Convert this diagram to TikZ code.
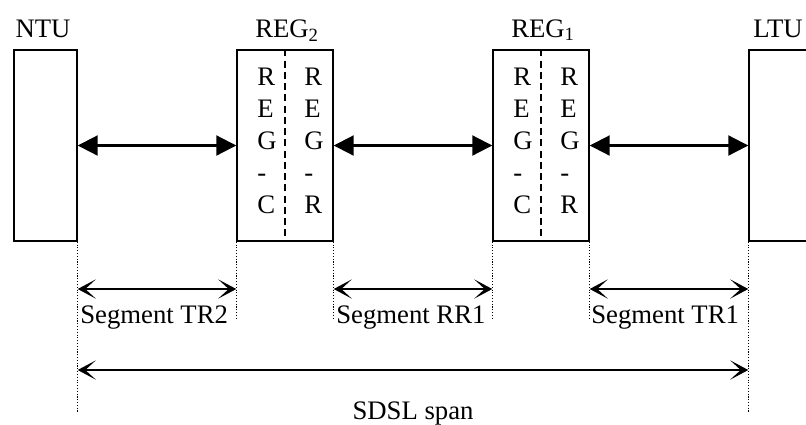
\documentclass[tikz,border=0pt]{standalone}
\usepackage{fontspec}
\setmainfont{Liberation Serif}
\usetikzlibrary{arrows.meta, positioning}

\begin{document}
\begin{tikzpicture}[x=0.025cm, y=-0.025cm,
    unit/.style={draw, line width=1pt, minimum width=1.575cm,
        minimum height=4.775cm, inner sep=0pt},
    regbox/.style={unit, minimum width=2.4cm},
    letter/.style={anchor=base west, inner sep=0pt,
        font=\fontsize{19}{21}\selectfont},
    title/.style={anchor=base, inner sep=0pt,
        font=\fontsize{19}{21}\selectfont},
    link/.style={{Triangle[length=5mm,width=5mm]}-{Triangle[length=5mm,width=5mm]},
        line width=1.5pt},
    seg/.style={{Stealth[length=4.5mm,width=4.8mm,inset=2.6mm]}-{Stealth[length=4.5mm,width=4.8mm,inset=2.6mm]},
        line width=1.2pt},
    split/.style={dash pattern=on 5pt off 3pt, line width=1pt},
    guide/.style={dash pattern=on 0.8pt off 1.2pt, line width=0.9pt},
    >=Stealth
]
    \clip (0,0) rectangle (806,424);

    % units along the line
    \node[unit] (ntu) at (45.5,145.5) {};
    \node[regbox] (reg2) at (285,145.5) {};
    \node[regbox] (reg1) at (541,145.5) {};
    \node[unit] (ltu) at (780.5,145.5) {};

    \node[title] (ntulbl) at (43,37) {NTU};
    \node[title] (reg2lbl) at (287,37) {REG\textsubscript{2}};
    \node[title] (reg1lbl) at (543,37) {REG\textsubscript{1}};
    \node[title] (ltulbl) at (778,37) {LTU};

    \draw[split] (reg2.north) -- (reg2.south);
    \draw[split] (reg1.north) -- (reg1.south);

    \foreach \ch [count=\i] in {R,E,G,-,C} {
        \node[letter] at (257,{53+32*\i}) {\ch};
        \node[letter] at (513,{53+32*\i}) {\ch};
    }
    \foreach \ch [count=\i] in {R,E,G,-,R} {
        \node[letter] at (304,{53+32*\i}) {\ch};
        \node[letter] at (560,{53+32*\i}) {\ch};
    }

    \draw[link] (ntu) -- (reg2);
    \draw[link] (reg2) -- (reg1);
    \draw[link] (reg1) -- (ltu);

    % dimension lines
    \coordinate (segy) at (0,289);
    \coordinate (shorty) at (0,318);
    \coordinate (spany) at (0,370);
    \coordinate (longy) at (0,413);

    \draw[guide] (ntu.south east) -- (ntu.south east |- longy);
    \draw[guide] (ltu.south west) -- (ltu.south west |- longy);
    \draw[guide] (reg2.south west) -- (reg2.south west |- shorty);
    \draw[guide] (reg2.south east) -- (reg2.south east |- shorty);
    \draw[guide] (reg1.south west) -- (reg1.south west |- shorty);
    \draw[guide] (reg1.south east) -- (reg1.south east |- shorty);

    \draw[seg] (ntu.south east |- segy) -- (reg2.south west |- segy);
    \draw[seg] (reg2.south east |- segy) -- (reg1.south west |- segy);
    \draw[seg] (reg1.south east |- segy) -- (ltu.south west |- segy);
    \draw[seg] (ntu.south east |- spany) -- (ltu.south west |- spany);

    \node[letter] (tr2) at (80,323) {Segment TR2};
    \node[letter] (rr1) at (336,323) {Segment RR1};
    \node[letter] (tr1) at (591,323) {Segment TR1};
    \node[title] (span) at (413,419) {SDSL span};
\end{tikzpicture}
\end{document}
